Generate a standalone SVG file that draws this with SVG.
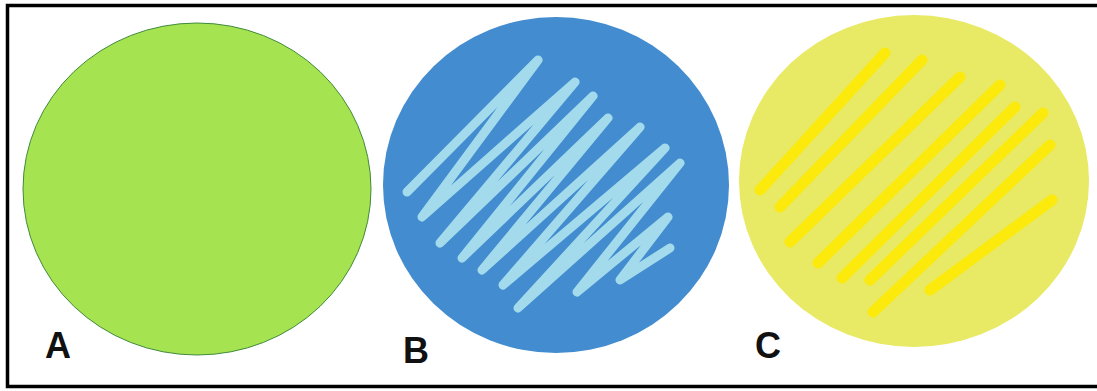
<svg xmlns="http://www.w3.org/2000/svg" width="1097" height="391" viewBox="0 0 1097 391">
<style>
.lbl{font-family:"Liberation Sans",Arial,sans-serif;font-weight:bold;font-size:36px;fill:#111}
.sb{fill:none;stroke:#a3dbec;stroke-width:9;stroke-linecap:round;stroke-linejoin:round}
.sc{fill:none;stroke:#fbea0c;stroke-width:11;stroke-linecap:round}
</style>
<rect width="1097" height="391" fill="#ffffff"/>
<path d="M1100 5.5 H7.5 V386.5 H1100" fill="none" stroke="#000" stroke-width="3.5"/>
<g id="plateA">
<ellipse cx="197" cy="189" rx="174" ry="166" fill="#a6e350" stroke="#3f8a3a" stroke-width="1"/>
<text class="lbl" x="45" y="358">A</text>
</g>
<g id="plateB">
<ellipse cx="556" cy="185" rx="173" ry="168" fill="#428ccf"/>
<polyline class="sb" points="407,192 538,60 422,217 575,82 440,243 593,96 462,258 608,118 482,270 640,127 503,285 665,148 518,308 680,163 577,292 668,217 620,280 670,248"/>
<text class="lbl" x="403" y="363">B</text>
</g>
<g id="plateC">
<ellipse cx="914" cy="181" rx="175" ry="166" fill="#e8e964"/>
<line class="sc" x1="760" y1="190" x2="885" y2="53"/>
<line class="sc" x1="780" y1="207" x2="922" y2="60"/>
<line class="sc" x1="790" y1="242" x2="960" y2="77"/>
<line class="sc" x1="818" y1="263" x2="1000" y2="85"/>
<line class="sc" x1="842" y1="278" x2="1015" y2="107"/>
<line class="sc" x1="870" y1="280" x2="1043" y2="113"/>
<line class="sc" x1="873" y1="312" x2="1050" y2="145"/>
<line class="sc" x1="930" y1="290" x2="1052" y2="200"/>
<text class="lbl" x="755" y="358">C</text>
</g>
</svg>
